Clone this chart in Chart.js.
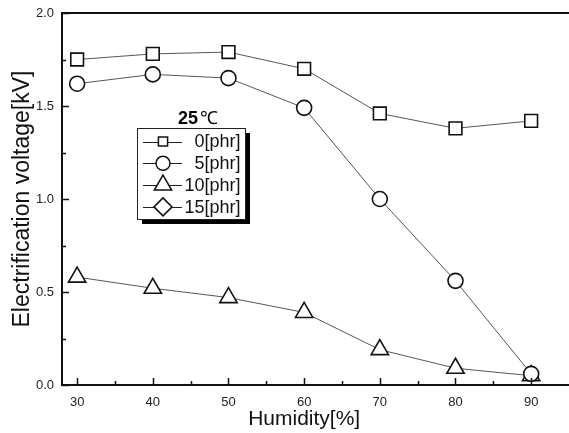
<!DOCTYPE html>
<html>
<head>
<meta charset="utf-8">
<script src="https://cdn.jsdelivr.net/npm/chart.js@4"></script>
<style>
  html, body { margin: 0; padding: 0; background: #fff; }
  #wrap { width: 569px; height: 433px; position: relative; }
</style>
</head>
<body>
<div id="wrap"><canvas id="c" width="569" height="433"></canvas></div>
<script>
// ---- data ----
const humidity = [30, 40, 50, 60, 70, 80, 90];
const seriesLabels = ['0[phr]', '5[phr]', '10[phr]', '15[phr]'];
const phr0  = [1.75, 1.78, 1.79, 1.70, 1.46, 1.38, 1.42];
const phr5  = [1.62, 1.67, 1.65, 1.49, 1.00, 0.56, 0.06];
const phr10 = [0.58, 0.52, 0.47, 0.39, 0.19, 0.09, 0.05];
const phr15 = [];
const xTickValues = [30, 40, 50, 60, 70, 80, 90];
const xMinorValues = [35, 45, 55, 65, 75, 85];
const yTickValues = [0, 0.5, 1.0, 1.5, 2.0];
const yMinorValues = [0.25, 0.75, 1.25, 1.75];
const xTitle = 'Humidity[%]';
const yTitle = 'Electrification voltage[kV]';
const legendTitleNum = '25';
const legendTitleUnit = '℃';

const FONT = "'Liberation Sans', Arial, sans-serif";

function pts(vals) { return vals.map((v, i) => ({ x: humidity[i], y: v })); }

const styles = [
  { pointStyle: 'rect', pointRadius: 9, legendRadius: 6.5 },
  { pointStyle: 'circle', pointRadius: 7.5, legendRadius: 7 },
  { pointStyle: 'triangle', pointRadius: 10, legendRadius: 10 },
  { pointStyle: 'rectRot', pointRadius: 9, legendRadius: 9 }
];
const allSeries = [phr0, phr5, phr10, phr15];

const datasets = allSeries.map((s, i) => ({
  label: seriesLabels[i],
  data: pts(s),
  borderColor: '#555',
  borderWidth: 1,
  pointStyle: styles[i].pointStyle,
  pointRadius: styles[i].pointRadius,
  pointHoverRadius: styles[i].pointRadius,
  pointBorderColor: '#111',
  pointBackgroundColor: '#fff',
  pointBorderWidth: 1.6,
  legendRadius: styles[i].legendRadius,
  tension: 0,
  clip: false
}));

const decor = {
  id: 'decor',
  afterDraw(chart) {
    const ctx = chart.ctx;
    const a = chart.chartArea;
    const xs = chart.scales.x, ys = chart.scales.y;
    ctx.save();
    // top border
    ctx.strokeStyle = '#111';
    ctx.lineWidth = 2;
    ctx.beginPath();
    ctx.moveTo(a.left, a.top);
    ctx.lineTo(a.right, a.top);
    ctx.stroke();
    // inward ticks
    ctx.lineWidth = 1.5;
    ctx.beginPath();
    xTickValues.forEach(v => { const px = Math.round(xs.getPixelForValue(v)) + 0.5; ctx.moveTo(px, a.bottom); ctx.lineTo(px, a.bottom - 7); });
    xMinorValues.forEach(v => { const px = Math.round(xs.getPixelForValue(v)) + 0.5; ctx.moveTo(px, a.bottom); ctx.lineTo(px, a.bottom - 4); });
    yTickValues.forEach(v => { const py = Math.round(ys.getPixelForValue(v)) + 0.5; ctx.moveTo(a.left, py); ctx.lineTo(a.left + 7, py); });
    yMinorValues.forEach(v => { const py = Math.round(ys.getPixelForValue(v)) + 0.5; ctx.moveTo(a.left, py); ctx.lineTo(a.left + 4, py); });
    ctx.stroke();

    // axis titles
    ctx.fillStyle = '#111';
    ctx.font = '21px ' + FONT;
    ctx.textAlign = 'center';
    ctx.textBaseline = 'alphabetic';
    ctx.fillText(xTitle, xs.getPixelForValue(60), 425);
    ctx.save();
    ctx.translate(29, (a.top + a.bottom) / 2);
    ctx.rotate(-Math.PI / 2);
    ctx.font = '23px ' + FONT;
    ctx.fillText(yTitle, 0, 0);
    ctx.restore();

    // legend box with shadow
    const bx = 137, by = 128, bw = 108, bh = 91, sh = 5;
    ctx.fillStyle = '#000';
    ctx.fillRect(bx + sh, by + sh, bw, bh);
    ctx.fillStyle = '#fff';
    ctx.fillRect(bx, by, bw, bh);
    ctx.strokeStyle = '#222';
    ctx.lineWidth = 1;
    ctx.strokeRect(bx + 0.5, by + 0.5, bw, bh);

    // legend title
    ctx.fillStyle = '#000';
    ctx.textAlign = 'left';
    ctx.font = 'bold 18px ' + FONT;
    ctx.fillText(legendTitleNum, 178, 124);
    const w25 = ctx.measureText(legendTitleNum).width;
    ctx.font = '18px ' + FONT;
    ctx.fillText(legendTitleUnit, 178 + w25 + 2, 124);

    // legend items
    ctx.font = '18px ' + FONT;
    ctx.textBaseline = 'middle';
    chart.data.datasets.forEach((ds, i) => {
      const y = 141.5 + i * 21.8;
      const tw = ctx.measureText(ds.label).width;
      const tx = 240.5 - tw;
      ctx.strokeStyle = '#222';
      ctx.lineWidth = 1;
      ctx.beginPath();
      ctx.moveTo(143, Math.round(y) + 0.5);
      ctx.lineTo(Math.min(182, tx - 1), Math.round(y) + 0.5);
      ctx.stroke();
      ctx.fillStyle = '#fff';
      ctx.strokeStyle = '#111';
      ctx.lineWidth = 1.5;
      Chart.helpers.drawPoint(ctx, { pointStyle: ds.pointStyle, radius: ds.legendRadius, rotation: 0, borderWidth: 1.5 }, 163, y);
      ctx.fillStyle = '#111';
      ctx.fillText(ds.label, tx, y + 1);
    });
    ctx.restore();
  }
};

new Chart(document.getElementById('c'), {
  type: 'line',
  data: { datasets },
  plugins: [decor],
  options: {
    responsive: false,
    animation: false,
    events: [],
    layout: { autoPadding: false, padding: { top: 13, right: 0, bottom: 0, left: 0 } },
    plugins: { legend: { display: false }, tooltip: { enabled: false } },
    scales: {
      x: {
        type: 'linear',
        min: 28,
        max: 95,
        afterBuildTicks: s => { s.ticks = xTickValues.map(v => ({ value: v })); },
        afterFit: s => { s.height = 48; s.paddingLeft = 0; s.paddingRight = 0; },
        grid: { display: false, drawTicks: false },
        border: { display: true, color: '#111', width: 2 },
        ticks: { padding: 10, color: '#222', font: { family: FONT, size: 13 }, callback: v => String(v) }
      },
      y: {
        type: 'linear',
        min: 0,
        max: 2.0,
        afterBuildTicks: s => { s.ticks = yTickValues.map(v => ({ value: v })); },
        afterFit: s => { s.width = 62; s.paddingTop = 0; s.paddingBottom = 0; },
        grid: { display: false, drawTicks: false },
        border: { display: true, color: '#111', width: 2 },
        ticks: { padding: 8, color: '#222', font: { family: FONT, size: 13 }, callback: v => v.toFixed(1) }
      }
    }
  }
});
</script>
</body>
</html>
